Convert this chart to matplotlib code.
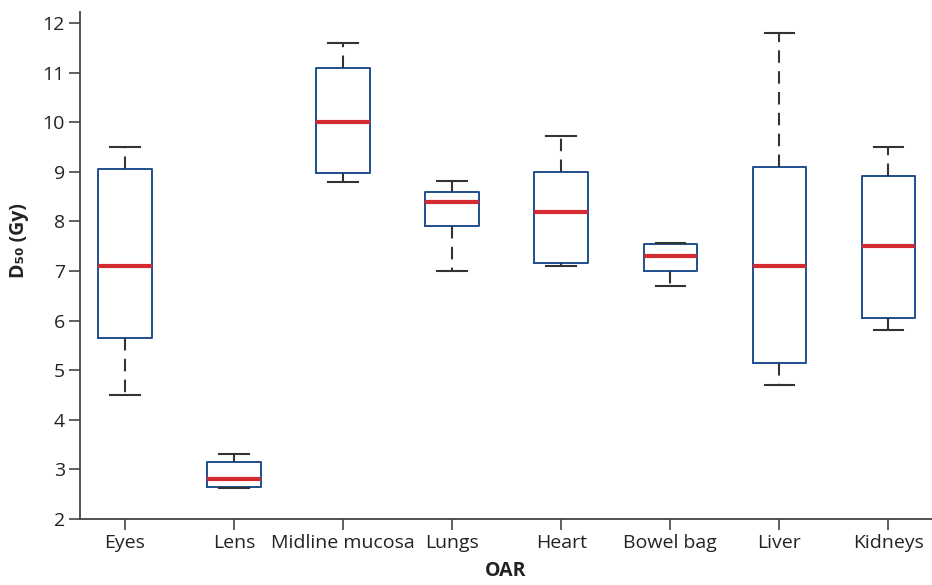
import matplotlib
matplotlib.use("Agg")
import matplotlib.pyplot as plt

categories = ["Eyes", "Lens", "Midline mucosa", "Lungs", "Heart", "Bowel bag", "Liver", "Kidneys"]
whislo = [4.5, 2.63, 8.8, 7.0, 7.1, 6.7, 4.7, 5.82]
q1 = [5.65, 2.65, 8.97, 7.9, 7.17, 7.0, 5.15, 6.05]
med = [7.1, 2.8, 10.0, 8.4, 8.2, 7.3, 7.1, 7.5]
q3 = [9.05, 3.15, 11.1, 8.6, 9.0, 7.55, 9.1, 8.92]
whishi = [9.5, 3.3, 11.6, 8.82, 9.72, 7.57, 11.8, 9.5]
yticks = [2, 3, 4, 5, 6, 7, 8, 9, 10, 11, 12]

plt.rcParams['font.family'] = ['Open Sans', 'DejaVu Sans']

fig = plt.figure(figsize=(9.32, 5.85), dpi=100)
ax = fig.add_axes([0.086, 0.113, 0.914, 0.866])

stats = []
for i, c in enumerate(categories):
    stats.append(dict(label=c, whislo=whislo[i], q1=q1[i], med=med[i], q3=q3[i], whishi=whishi[i], fliers=[]))

ax.bxp(stats, positions=range(1, len(categories) + 1), widths=0.49, showfliers=False,
       boxprops=dict(color='#1f4f8f', linewidth=1.4),
       medianprops=dict(color='#d42a32', linewidth=3),
       whiskerprops=dict(color='#333333', linewidth=1.5, linestyle=(0, (6, 4))),
       capprops=dict(color='#333333', linewidth=1.5),
       capwidths=0.27)

ax.set_xlim(0.59, 8.4)
ax.set_ylim(2, 12.22)
ax.set_yticks(yticks)
ax.set_xticks(range(1, len(categories) + 1))
ax.set_xticklabels(categories)
for s in ['top', 'right']:
    ax.spines[s].set_visible(False)
for s in ['left', 'bottom']:
    ax.spines[s].set_color('#444444')
    ax.spines[s].set_linewidth(1.3)
ax.tick_params(axis='both', direction='out', length=8, width=1.2, color='#444444',
               labelsize=14, labelcolor='#222222', pad=3)

ax.set_ylabel('D₅₀ (Gy)', fontsize=14, fontweight='bold', color='#222222', labelpad=12)
ax.yaxis.set_label_coords(-0.06, 0.55)
ax.set_xlabel('OAR', fontsize=14, fontweight='bold', color='#222222', labelpad=6)

fig.savefig('out.png', dpi=100)
